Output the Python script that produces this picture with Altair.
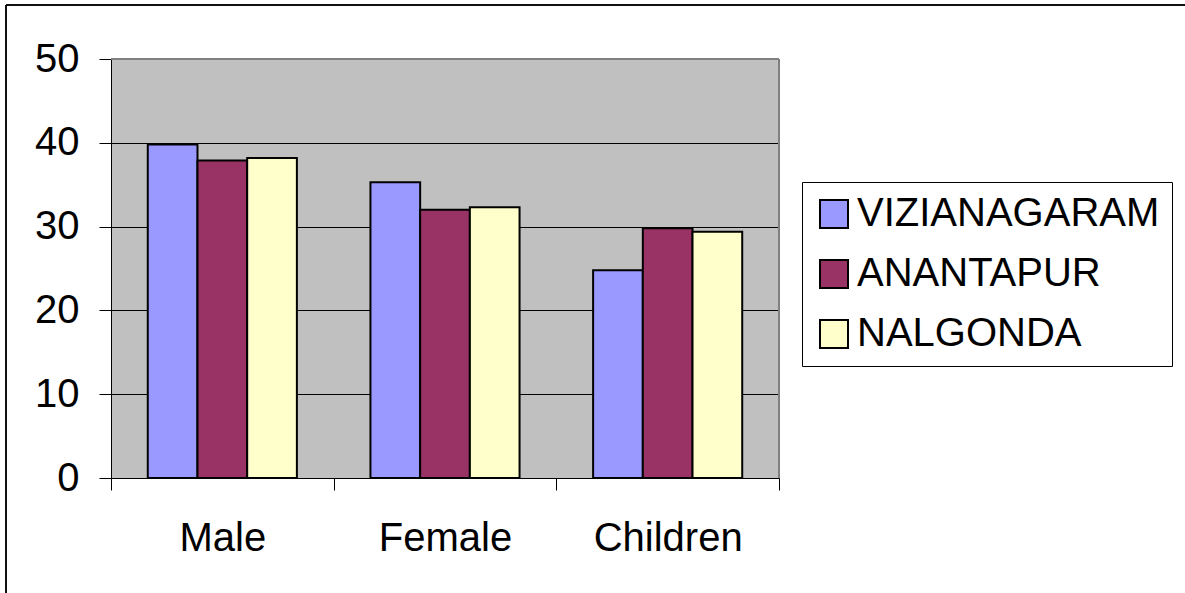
import altair as alt
import pandas as pd

# Population groups on the x axis, one bar per district in each group
groups = ["Male", "Female", "Children"]
districts = ["VIZIANAGARAM", "ANANTAPUR", "NALGONDA"]
vizianagaram = [39.8, 35.3, 24.8]
anantapur = [37.9, 32.0, 29.8]
nalgonda = [38.2, 32.3, 29.4]
colors = ["#9999FF", "#993366", "#FFFFCC"]
y_ticks = [0, 10, 20, 30, 40, 50]

rows = []
for name, vals in zip(districts, [vizianagaram, anantapur, nalgonda]):
    for g, v in zip(groups, vals):
        rows.append({"group": g, "district": name, "value": v})
df = pd.DataFrame(rows)

W, H = 668, 419
FONT = "Liberation Sans"

bars = alt.Chart(df).mark_bar(stroke="black", strokeWidth=2, opacity=1).encode(
    x=alt.X(
        "group:N",
        sort=groups,
        title=None,
        scale=alt.Scale(paddingInner=0, paddingOuter=0),
        axis=alt.Axis(
            labelAngle=0,
            tickBand="extent",
            tickSize=12,
            tickColor="black",
            domainColor="black",
            labelColor="black",
            labelFont=FONT,
            labelFontSize=40,
            labelPadding=28,
            labelLimit=0,
            grid=False,
        ),
    ),
    xOffset=alt.XOffset(
        "district:N",
        sort=districts,
        scale=alt.Scale(paddingInner=0, paddingOuter=0.74),
    ),
    y=alt.Y(
        "value:Q",
        title=None,
        scale=alt.Scale(domain=[0, 50], nice=False),
        axis=alt.Axis(
            values=y_ticks,
            grid=True,
            gridColor="black",
            gridWidth=1,
            tickSize=12,
            tickColor="black",
            domainColor="black",
            labelColor="black",
            labelFont=FONT,
            labelFontSize=40,
            labelPadding=20,
        ),
    ),
    color=alt.Color(
        "district:N",
        sort=districts,
        scale=alt.Scale(domain=districts, range=colors),
        legend=alt.Legend(
            title=None,
            orient="none",
            legendX=691,
            legendY=123,
            symbolType="square",
            symbolSize=784,
            symbolStrokeColor="black",
            symbolStrokeWidth=2,
            symbolOpacity=1,
            labelFont=FONT,
            labelFontSize=40,
            labelColor="black",
            labelLimit=0,
            labelOffset=3,
            rowPadding=20,
            padding=12,
            strokeColor="black",
            fillColor="white",
        ),
    ),
)

# Gray frame on the top and right of the plot area
frame_top = alt.Chart(pd.DataFrame({"k": [0]})).mark_rule(
    color="#808080", strokeWidth=2
).encode(x=alt.value(0), x2=alt.value(W), y=alt.value(0))
frame_right = alt.Chart(pd.DataFrame({"k": [0]})).mark_rule(
    color="#808080", strokeWidth=2
).encode(x=alt.value(W), y=alt.value(0), y2=alt.value(H))

# Outer border of the chart
outer_top = alt.Chart(pd.DataFrame({"k": [0]})).mark_rule(
    color="#111111", strokeWidth=2
).encode(x=alt.value(-105), x2=alt.value(1080), y=alt.value(-54))
outer_left = alt.Chart(pd.DataFrame({"k": [0]})).mark_rule(
    color="#111111", strokeWidth=2
).encode(x=alt.value(-105), y=alt.value(-54), y2=alt.value(540))

chart = (
    alt.layer(bars, frame_top, frame_right, outer_top, outer_left)
    .properties(
        width=W,
        height=H,
        autosize=alt.AutoSizeParams(type="none"),
        padding={"left": 111, "top": 59, "right": 406, "bottom": 115},
        background="white",
    )
    .configure_view(stroke=None, fill="#C0C0C0")
)

chart.save("out.html", embed_options={"renderer": "svg", "actions": False})
